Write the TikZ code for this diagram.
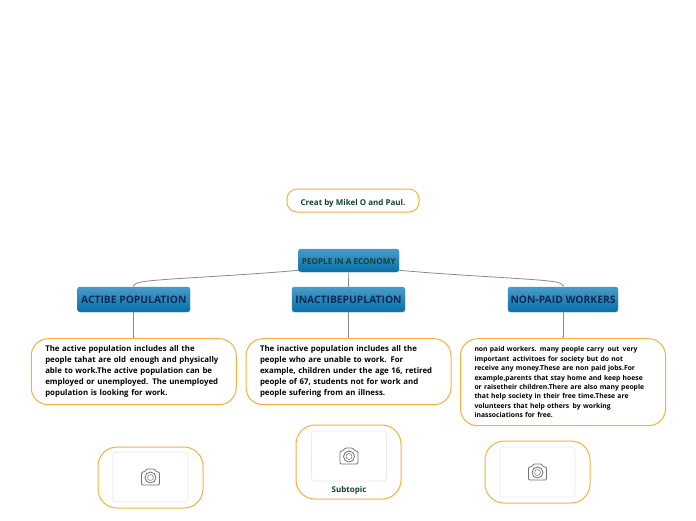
\documentclass[tikz,border=0pt]{standalone}
\usepackage{fontspec}
\setmainfont{Open Sans}
\usetikzlibrary{positioning, arrows.meta}
\definecolor{linegray}{HTML}{8A8A8A}
\definecolor{notegreen}{HTML}{0F4236}
\definecolor{headnavy}{HTML}{0B2A55}
\definecolor{edgeorange}{HTML}{FBAE3C}
\definecolor{topblue}{HTML}{4A9BC8}
\definecolor{lowblue}{HTML}{0470A9}
\definecolor{rimblue}{HTML}{3C8FBE}
\begin{document}
\begin{tikzpicture}[
        x=1pt, y=-1pt,
        font=\bfseries,
        topic/.style={rounded corners=2.5pt, top color=topblue, bottom color=lowblue, draw=rimblue, line width=0.4pt, minimum height=25pt, text=headnavy, font=\fontsize{10.3}{11}\bfseries, inner sep=0pt, text height=8.5pt, text depth=0pt},
        note/.style={draw=edgeorange, line width=1pt, rounded corners=17pt, fill=white, text=black, text width=177pt, minimum width=205pt, align=left, inner sep=0pt, font=\fontsize{7.85}{11}\bfseries},
        picbox/.style={draw=edgeorange, line width=1pt, rounded corners=19pt, fill=white, minimum width=105pt},
        picframe/.style={draw=black!8, line width=0.8pt, rounded corners=3pt, fill=white, minimum width=75pt, minimum height=50pt},
        link/.style={draw=linegray, line width=0.8pt, -{Latex[length=1.5pt, width=2pt]}},
        cam/.style={draw=black!55, line width=0.8pt, line join=round},
      ]
        \useasboundingbox (0,0) rectangle (696,520);
        % top row
        \node[draw=edgeorange, line width=1pt, rounded corners=10pt, minimum width=132pt, minimum height=23pt, inner sep=0pt, text=notegreen, text height=9pt, text depth=0pt, font=\fontsize{8}{9}\bfseries] (creat) at (353,200.5) {Creat by Mikel O and Paul.};
        \node[topic, minimum width=100.5pt, minimum height=23pt, text=notegreen, text height=7pt, font=\fontsize{8.15}{9}\bfseries] (root) at (348.75,260.5) {PEOPLE IN A ECONOMY};
        % headers
        \node[topic, minimum width=112.5pt] (actibe) at (133.75,299.5) {ACTIBE POPULATION};
        \node[topic, minimum width=113pt] (inactibe) at (348.5,299.5) {INACTIBEPUPLATION};
        \node[topic, minimum width=110pt] (nonpaid) at (563,299.5) {NON-PAID WORKERS};
        % notes
        \node[note, minimum height=66pt, below=26pt of actibe] (actnote) {The active population includes all the\\ people tahat are old\, enough and physically\\ able to work.The active population can be\\ employed or unemployed. The unemployed\\ population is looking for work.};
        \node[note, minimum height=66pt, below=26pt of inactibe] (inactnote) {The inactive population includes all the\\ people who are unable to work. For\\ example, children under the age 16, retired\\ people of 67, students not for work and\\ people sufering from an illness.};
        \node[note, minimum height=87pt, below=26pt of nonpaid, font=\fontsize{6.8}{9.45}\bfseries] (nonnote) {non paid workers. many people carry\, out\, very\\ important\, activitoes for society but do not\\ receive any money.These are non paid jobs.For\\ example,parents that stay home and keep hoese\\ or raisetheir children.There are also many people\\ that help society in their free time.These are\\ volunteers that help others\, by working\\ inassociations for free.};
        % pictures
        \node[picbox, minimum height=61pt] (pic1) at (150.5,477.5) {};
        \node[picframe] (frame1) at (150.5,477) {};
        \node[picbox, minimum height=74pt] (pic2) at (348.5,462) {};
        \node[picframe] (frame2) at (349,456) {};
        \node[text=notegreen, font=\fontsize{8}{9}\bfseries, below=1.5pt of frame2] (sub2) {Subtopic};
        \node[picbox, minimum height=62pt] (pic3) at (537.5,472) {};
        \node[picframe] (frame3) at (537.5,472) {};
        \foreach \n in {frame1,frame2,frame3} {
          \draw[cam, rounded corners=1.2pt] ([shift={(-9,-5)}]\n.center) -- ++(3,0) -- ++(2,-3) -- ++(8,0) -- ++(2,3) -- ++(3,0) -- ++(0,13) -- ++(-18,0) -- cycle;
          \draw[cam] ([yshift=-0.5pt]\n.center) circle (5.5pt);
          \draw[cam, line width=0.5pt] ([yshift=-0.5pt]\n.center) circle (3pt);
        }
        % connectors
        \coordinate (rootleft) at ([shift={(1,-2)}]root.south west);
        \coordinate (rootright) at ([shift={(-1,-2)}]root.south east);
        \draw[link] (rootleft) .. controls (230,276.5) and (150,279) .. (139,282.5) .. controls (134.5,284) and (133.75,285) .. (actibe.north);
        \draw[link] (root.south) -- (inactibe.north);
        \draw[link] (rootright) .. controls (467,276.5) and (547,279) .. (558,282.5) .. controls (562,284) and (563,285) .. (nonpaid.north);
        \draw[link] (actibe) -- (actnote);
        \draw[link] (inactibe) -- (inactnote);
        \draw[link] (nonpaid) -- (nonnote);
      \end{tikzpicture}
\end{document}
